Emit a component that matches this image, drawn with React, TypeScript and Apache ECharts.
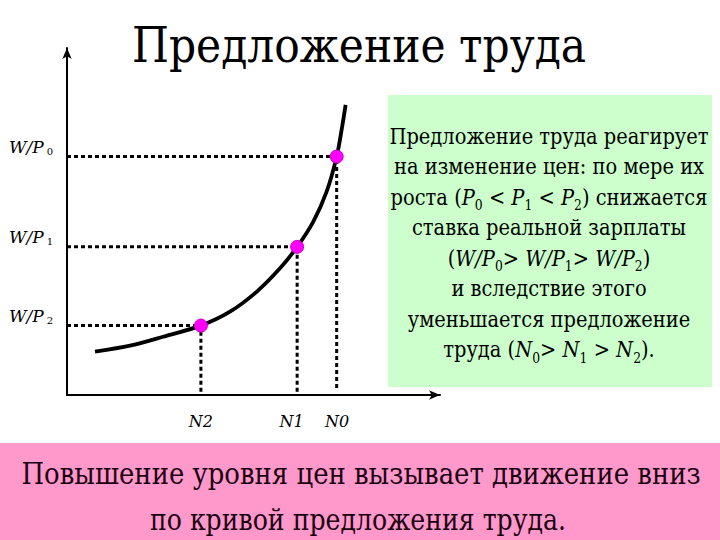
import React, { useEffect, useRef } from "react";
import * as echarts from "echarts";

// Supply curve (x: labour N, y: real wage W/P), chart units 0..100
const curveX = [7.5, 16.9, 25.8, 35.9, 43.7, 50.9, 57.1, 61.7, 66.0, 69.6, 72.3, 73.7, 74.7];
const curveY = [12.5, 14.2, 16.8, 20.0, 24.0, 29.8, 36.5, 42.7, 49.9, 58.6, 68.7, 76.9, 83.6];

// Marked points (index 0 -> N2, W/P2; 1 -> N1; 2 -> N0)
const pointX = [35.9, 61.7, 72.3];
const pointY = [20.0, 42.7, 68.7];
const guideBottom = [0, 0, 2];

const xTickLabels = ["N2", "N1", "N0"];
const xTickValues = [35.9, 60.2, 72.4];
const yTickLabels = ["2", "1", "0"];
const yTickValues = [20.0, 42.7, 68.7];

const titleText = "Предложение труда";
const boxLines = [
  "Предложение труда реагирует",
  "на изменение цен: по мере их",
  "роста ({i|P}{s|0} < {i|P}{s|1} < {i|P}{s|2}) снижается",
  "ставка реальной зарплаты",
  "({i|W/P}{s|0}> {i|W/P}{s|1}> {i|W/P}{s|2})",
  "и вследствие этого",
  "уменьшается предложение",
  "труда ({i|N}{s|0}> {i|N}{s|1} > {i|N}{s|2}).",
];
const bottomLines = [
  "Повышение уровня цен вызывает движение вниз",
  "по кривой предложения труда.",
];

const SERIF = "DejaVu Serif";
const NARROW = 0.884;

export default function App() {
  const ref = useRef<HTMLDivElement>(null);
  useEffect(() => {
    document.body.style.margin = "0";
    const chart = echarts.init(ref.current!, null, { renderer: "svg" });
    const guides = pointX.map((px, i) => ({
      type: "line",
      data: [
        [0, pointY[i]],
        [px, pointY[i]],
        [px, guideBottom[i]],
      ],
      showSymbol: false,
      symbol: "none",
      lineStyle: { color: "#000", width: 3, type: [4, 3] },
      z: 2,
      silent: true,
    }));
    chart.setOption({
      animation: false,
      backgroundColor: "#fff",
      grid: { left: 67, top: 48, width: 373, height: 347 },
      xAxis: {
        type: "value",
        min: 0,
        max: 100,
        splitLine: { show: false },
        axisTick: { show: false },
        axisLine: {
          show: true,
          symbol: ["none", "arrow"],
          symbolSize: [7, 11],
          lineStyle: { color: "#000", width: 2 },
        },
        axisLabel: {
          customValues: xTickValues,
          margin: 18,
          formatter: (v: number) => {
            const i = xTickValues.findIndex((t) => Math.abs(t - v) < 1e-6);
            return i >= 0 ? xTickLabels[i] : "";
          },
          fontFamily: SERIF,
          fontStyle: "italic",
          fontSize: 16,
          color: "#000",
        },
      },
      yAxis: {
        type: "value",
        min: 0,
        max: 100,
        splitLine: { show: false },
        axisTick: { show: false },
        axisLine: {
          show: true,
          symbol: ["none", "arrow"],
          symbolSize: [7, 11],
          lineStyle: { color: "#000", width: 2 },
        },
        axisLabel: {
          customValues: yTickValues,
          margin: 14,
          verticalAlign: "bottom",
          formatter: (v: number) => {
            const i = yTickValues.findIndex((t) => Math.abs(t - v) < 1e-6);
            return i >= 0 ? "{a|W/P}{s|" + yTickLabels[i] + "}" : "";
          },
          rich: {
            a: { fontFamily: SERIF, fontStyle: "italic", fontSize: 17, color: "#000", lineHeight: 20 },
            s: { fontFamily: SERIF, fontSize: 10, color: "#000", verticalAlign: "bottom", lineHeight: 8, padding: [0, 0, 0, 3] },
          },
        },
      },
      series: [
        ...guides,
        {
          type: "line",
          data: curveX.map((x, i) => [x, curveY[i]]),
          smooth: 0.3,
          showSymbol: false,
          symbol: "none",
          lineStyle: { color: "#000", width: 3.8 },
          z: 3,
          silent: true,
        },
        {
          type: "scatter",
          data: pointX.map((x, i) => [x, pointY[i]]),
          symbolSize: 13,
          itemStyle: { color: "#ff00ff", borderColor: "#cc00cc", borderWidth: 1, opacity: 1 },
          z: 4,
          silent: true,
        },
      ],
      graphic: [
        {
          type: "text",
          x: 359,
          y: 46,
          scaleX: NARROW,
          style: {
            text: titleText,
            fontFamily: SERIF,
            fontSize: 48,
            fill: "#000",
            align: "center",
            verticalAlign: "middle",
          },
        },
        {
          type: "rect",
          shape: { x: 388, y: 95, width: 324, height: 292 },
          style: { fill: "#ccffcc" },
          z: 0,
        },
        {
          type: "text",
          x: 549,
          y: 121,
          scaleX: NARROW,
          style: {
            text: boxLines.join("\n"),
            fontFamily: SERIF,
            fontSize: 22,
            lineHeight: 30.5,
            fill: "#000",
            align: "center",
            verticalAlign: "top",
            rich: {
              i: { fontFamily: SERIF, fontStyle: "italic", fontSize: 22, lineHeight: 30.5 },
              s: { fontFamily: SERIF, fontSize: 14, verticalAlign: "bottom", lineHeight: 18 },
            },
          },
          z: 5,
        },
        {
          type: "rect",
          shape: { x: 0, y: 443, width: 720, height: 97 },
          style: { fill: "#ff99cc" },
          z: 0,
        },
        {
          type: "text",
          x: 361,
          y: 474,
          scaleX: 0.865,
          style: {
            text: bottomLines[0],
            fontFamily: SERIF,
            fontSize: 30,
            fill: "#1a0010",
            align: "center",
            verticalAlign: "middle",
          },
          z: 5,
        },
        {
          type: "text",
          x: 358,
          y: 520,
          scaleX: 0.84,
          style: {
            text: bottomLines[1],
            fontFamily: SERIF,
            fontSize: 30,
            fill: "#1a0010",
            align: "center",
            verticalAlign: "middle",
          },
          z: 5,
        },
      ],
    });
    return () => chart.dispose();
  }, []);
  return (
    <div
      ref={ref}
      style={{ position: "fixed", left: 0, top: 0, width: 720, height: 540 }}
    />
  );
}
